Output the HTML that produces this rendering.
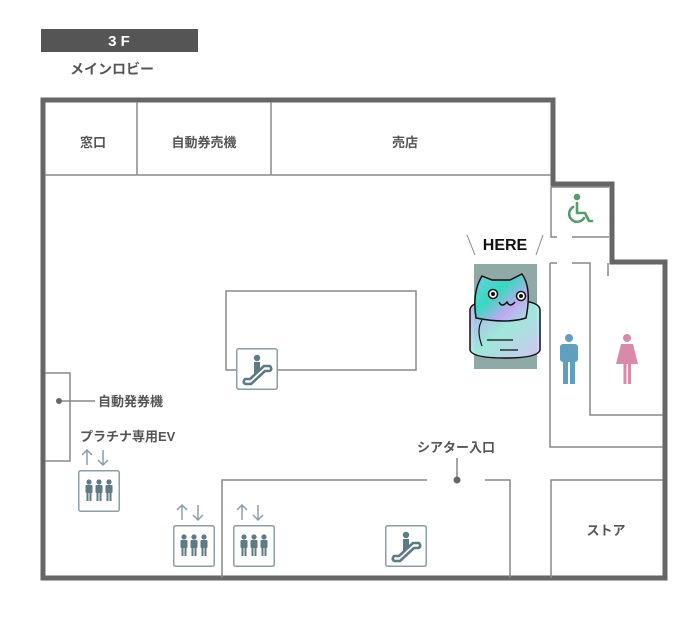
<!DOCTYPE html>
<html><head><meta charset="utf-8"><style>
body{margin:0;background:#fff;width:700px;height:612px;overflow:hidden}
svg text{font-family:"Liberation Sans","Noto Sans CJK JP",sans-serif;font-weight:bold;fill:#555}
</style></head><body>
<svg width="700" height="612" viewBox="0 0 700 612" xmlns="http://www.w3.org/2000/svg">
<defs>
<linearGradient id="cg" x1="0" y1="0" x2="1" y2="1">
<stop offset="0" stop-color="#6ad0e8"/><stop offset="0.4" stop-color="#38d8c0"/><stop offset="0.7" stop-color="#c0a8f0"/><stop offset="1" stop-color="#a0e8e0"/></linearGradient>
<linearGradient id="bg2" x1="0" y1="0" x2="1" y2="1">
<stop offset="0" stop-color="#b8a8f0"/><stop offset="0.5" stop-color="#a0eee0"/><stop offset="1" stop-color="#d8c8f8"/></linearGradient>
<g id="esc"><rect x="0.75" y="0.75" width="40.5" height="40.5" rx="2" fill="#fff" stroke="#8a9fa6" stroke-width="1.5"/>
<circle cx="21" cy="10" r="3.2" fill="#5e7a82"/><path d="M18 14h6v8l-6 5z" fill="#5e7a82"/>
<path d="M9 31 q-3 4 1 5 h5 l14 -13 h4 q4 -1 1 -5 h-6 l-14 13z" fill="none" stroke="#5e7a82" stroke-width="2.6" stroke-linejoin="round"/></g>
<g id="ev"><rect x="0.75" y="0.75" width="40.5" height="40.5" rx="2" fill="#fff" stroke="#8a9fa6" stroke-width="1.5"/>
<g fill="#5e7a82"><circle cx="11" cy="12" r="2.6"/><rect x="7.5" y="15" width="7" height="8" rx="1"/><rect x="8.5" y="22" width="2" height="9"/><rect x="11.5" y="22" width="2" height="9"/>
<circle cx="21" cy="12" r="2.6"/><rect x="17.5" y="15" width="7" height="8" rx="1"/><rect x="18.5" y="22" width="2" height="9"/><rect x="21.5" y="22" width="2" height="9"/>
<circle cx="31" cy="12" r="2.6"/><rect x="27.5" y="15" width="7" height="8" rx="1"/><rect x="28.5" y="22" width="2" height="9"/><rect x="31.5" y="22" width="2" height="9"/></g></g>
<g id="arr" fill="none" stroke="#8a9fa6" stroke-width="1.5"><path d="M6 18V3M1 8l5-5 5 5M22 3v15M17 13l5 5 5-5"/></g>
</defs>
<rect x="41" y="29" width="157" height="23" fill="#555"/>
<text x="119" y="46" text-anchor="middle" style="fill:#fff;font-size:15px">3 F</text>
<text x="70" y="74" style="font-size:14px">メインロビー</text>
<path d="M43 100H553V184H612V262H665V578H43Z" fill="none" stroke="#666" stroke-width="5"/>
<g fill="none" stroke="#888" stroke-width="1.5">
<path d="M45 175H551M137 102V175M271 102V175"/>
<path d="M551 187H609M551 187V237H557M572 237H609"/>
<path d="M550 263H557M572 263H590V415H663M550 263V447H663M608 263V276"/>
<rect x="226" y="291" width="190" height="79"/>
<path d="M45 373H70V461H45"/>
<path d="M222 578V480H427M485 480H510V578"/>
<path d="M551 578V480H663"/>
<path d="M59 401H95M457 458V480"/>
</g>
<circle cx="59" cy="401" r="3" fill="#666"/><circle cx="457" cy="480" r="3.5" fill="#666"/>
<g style="font-size:13px">
<text x="93" y="147" text-anchor="middle">窓口</text>
<text x="204" y="147" text-anchor="middle">自動券売機</text>
<text x="405" y="147" text-anchor="middle">売店</text>
<text x="98" y="406">自動発券機</text>
<text x="80" y="441">プラチナ専用EV</text>
<text x="456" y="452" text-anchor="middle">シアター入口</text>
<text x="606" y="535" text-anchor="middle">ストア</text>
</g>
<use href="#esc" x="236" y="348"/><use href="#esc" x="385" y="525"/>
<use href="#ev" x="78" y="470"/><use href="#ev" x="173" y="525"/><use href="#ev" x="233" y="525"/>
<use href="#arr" x="81" y="447"/><use href="#arr" x="176" y="502"/><use href="#arr" x="236" y="502"/>
<g fill="none" stroke="#5a9a70" stroke-width="2.6" stroke-linecap="round" stroke-linejoin="round"><circle cx="577" cy="197" r="2" fill="#5a9a70"/><path d="M577 203v10h8l4 8h3"/><path d="M573 207a8 8 0 1 0 11 11"/></g>
<g fill="#5fa0c0"><circle cx="569" cy="338" r="4"/><rect x="560" y="344" width="18" height="18" rx="3"/><rect x="563" y="358" width="5" height="26"/><rect x="570" y="358" width="5" height="26"/></g>
<g fill="#d88aa8"><circle cx="627" cy="338" r="4"/><path d="M621 344h12l5 20h-22z"/><rect x="623.5" y="362" width="3" height="22"/><rect x="628" y="362" width="3" height="22"/></g>
<text x="505" y="250" text-anchor="middle" style="font-size:16px;fill:#111">HERE</text>
<path d="M467 235l8 20M543 235l-7 20" stroke="#888" stroke-width="1"/>
<rect x="474" y="264" width="63" height="105" fill="#8fa9a6"/>
<path d="M470 310q0-10 35-10t35 10v40q-2 8-35 8t-35-8z" fill="url(#bg2)" fill-opacity="0.9" stroke="#111" stroke-width="1.5"/>
<path d="M476 318q-4-26 6-42l10 4h18l12-6q10 14 4 44q-20 6-50 0z" fill="url(#cg)" stroke="#111" stroke-width="1.5"/>
<path d="M482 320q-6 10 0 26M500 350h18M487 340h26" fill="none" stroke="#111" stroke-width="1.2"/>
<circle cx="493" cy="294" r="4.5" fill="#fff" stroke="#111" stroke-width="1.5"/><circle cx="493" cy="294" r="2" fill="#111"/>
<circle cx="521" cy="296" r="4.5" fill="#fff" stroke="#111" stroke-width="1.5"/><circle cx="521" cy="296" r="2" fill="#111"/>
<path d="M499 302q3 6 8 0q3 6 8 0" fill="none" stroke="#111" stroke-width="1.5"/>
</svg>
</body></html>
